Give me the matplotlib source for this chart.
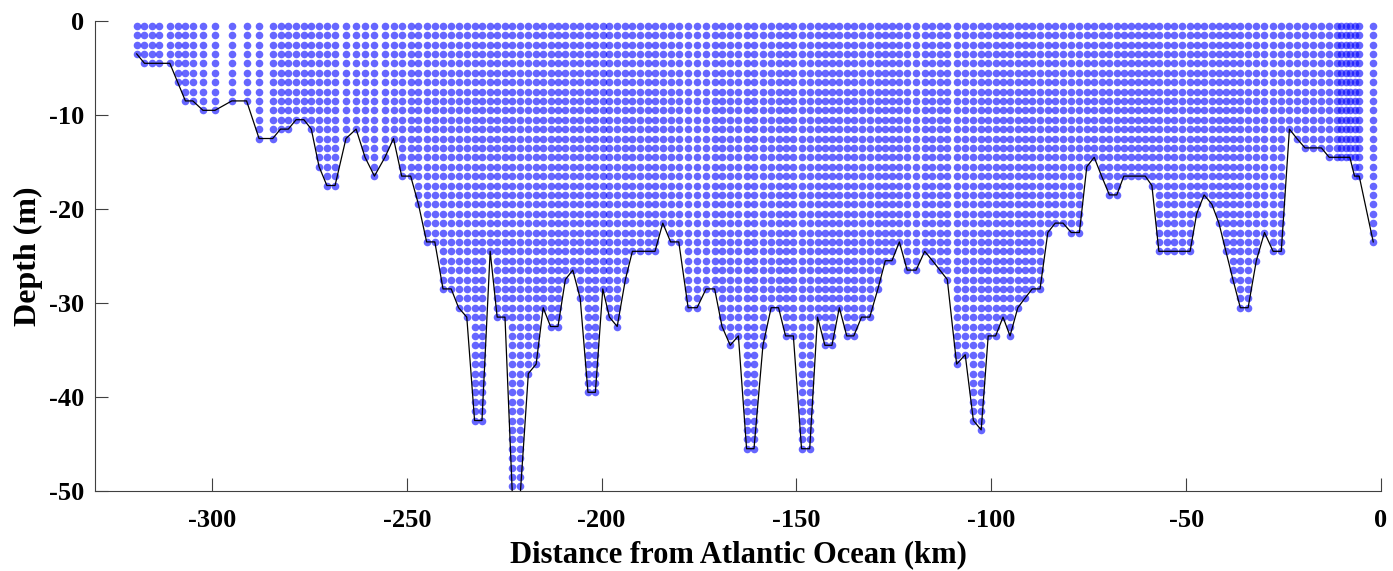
import numpy as np
import matplotlib
matplotlib.use('Agg')
from matplotlib import pyplot as plt

# station distance along the channel (km) and bed depth (m)
DIST_KM = [
    -319.3, -317.3, -315.4, -313.5, -310.8, -308.8, -306.8, -304.9, -302.3, -299.2,
    -294.9, -291.1, -287.9, -284.4, -282.4, -280.4, -278.4, -276.4, -274.5, -272.5,
    -270.5, -268.4, -265.6, -263.0, -260.7, -258.3, -255.6, -253.4, -251.3, -249.0,
    -247.0, -244.9, -242.8, -240.7, -238.6, -236.7, -234.6, -232.6, -230.7, -228.6,
    -226.8, -224.8, -222.9, -220.9, -218.8, -216.8, -215.0, -213.1, -211.2, -209.3,
    -207.4, -205.5, -203.5, -201.6, -199.7, -198.0, -196.0, -193.9, -192.1, -190.2,
    -188.2, -186.3, -184.3, -182.3, -180.2, -177.8, -175.5, -173.2, -171.0, -169.1,
    -167.0, -164.9, -162.8, -160.9, -158.6, -156.5, -154.6, -152.8, -150.8, -148.7,
    -146.6, -144.6, -142.7, -140.9, -139.0, -137.1, -135.3, -133.3, -131.2, -129.1,
    -127.2, -125.5, -123.6, -121.6, -119.3, -117.1, -115.1, -113.2, -111.3, -108.9,
    -106.7, -104.6, -102.6, -100.8, -98.9, -97.0, -95.2, -93.2, -91.4, -89.5,
    -87.5, -85.5, -83.6, -81.6, -79.5, -77.4, -75.5, -73.6, -71.7, -69.7,
    -67.8, -66.0, -64.1, -62.3, -60.5, -58.8, -57.0, -55.0, -53.0, -51.0,
    -49.0, -47.3, -45.4, -43.4, -41.6, -39.8, -38.0, -36.1, -34.1, -32.0,
    -29.9, -27.7, -25.6, -23.5, -21.6, -19.5, -17.4, -15.3, -13.3, -11.3,
    -10.2, -9.1, -8.0, -6.8, -5.6, -2.0,
]
BED_M = [
    -3.5, -4.5, -4.5, -4.5, -4.5, -6.5, -8.5, -8.5, -9.5, -9.5,
    -8.5, -8.5, -12.5, -12.5, -11.5, -11.5, -10.5, -10.5, -11.5, -15.5,
    -17.5, -17.5, -12.5, -11.5, -14.5, -16.5, -14.5, -12.5, -16.5, -16.5,
    -19.5, -23.5, -23.5, -28.5, -28.5, -30.5, -31.5, -42.5, -42.5, -24.5,
    -31.5, -31.5, -50.5, -50.5, -37.5, -36.5, -30.5, -32.5, -32.5, -27.5,
    -26.5, -29.5, -39.5, -39.5, -28.5, -31.5, -32.5, -27.5, -24.5, -24.5,
    -24.5, -24.5, -21.5, -23.5, -23.5, -30.5, -30.5, -28.5, -28.5, -32.5,
    -34.5, -33.5, -45.5, -45.5, -34.5, -30.5, -30.5, -33.5, -33.5, -45.5,
    -45.5, -31.5, -34.5, -34.5, -30.5, -33.5, -33.5, -31.5, -31.5, -28.5,
    -25.5, -25.5, -23.5, -26.5, -26.5, -24.5, -25.5, -26.5, -27.5, -36.5,
    -35.5, -42.5, -43.5, -33.5, -33.5, -31.5, -33.5, -30.5, -29.5, -28.5,
    -28.5, -22.5, -21.5, -21.5, -22.5, -22.5, -15.5, -14.5, -16.5, -18.5,
    -18.5, -16.5, -16.5, -16.5, -16.5, -17.5, -24.5, -24.5, -24.5, -24.5,
    -24.5, -20.5, -18.5, -19.5, -21.5, -24.5, -27.5, -30.5, -30.5, -25.5,
    -22.5, -24.5, -24.5, -11.5, -12.5, -13.5, -13.5, -13.5, -14.5, -14.5,
    -14.5, -14.5, -14.5, -16.5, -16.5, -23.5,
]
X_TICKS = [-300, -250, -200, -150, -100, -50, 0]
Y_TICKS = [0, -10, -20, -30, -40, -50]
GRID_STEP_M = 1.0


def water_points(dist, bed):
    # one column of grid points per station, from the surface down to the bed
    xs = []
    zs = []
    for x, d in zip(dist, bed):
        z = np.arange(-GRID_STEP_M / 2, d - 0.01, -GRID_STEP_M)
        xs.extend([x] * len(z))
        zs.extend(z)
    return xs, zs


def main():
    plt.rcParams['font.family'] = ['Liberation Serif', 'DejaVu Serif']
    plt.rcParams['font.weight'] = 'bold'
    fig = plt.figure(figsize=(13.93, 5.71), dpi=100)
    ax = fig.add_axes([0.0682, 0.1401, 0.9232, 0.8231])

    xs, zs = water_points(DIST_KM, BED_M)
    ax.scatter(xs, zs, s=30, color='#0000ff', alpha=0.6, linewidths=0, zorder=2)
    ax.plot(DIST_KM, BED_M, color='black', linewidth=0.9, zorder=3)

    ax.set_xlim(-330, 0)
    ax.set_ylim(-50, 0)
    ax.set_xticks(X_TICKS)
    ax.set_yticks(Y_TICKS)
    ax.set_xticklabels([str(t) for t in X_TICKS])
    ax.set_yticklabels([str(t) for t in Y_TICKS])

    for side in ['top', 'right']:
        ax.spines[side].set_visible(False)
    for side in ['left', 'bottom']:
        ax.spines[side].set_color('#404040')
        ax.spines[side].set_linewidth(0.8)
    ax.tick_params(direction='in', length=9.5, width=0.8, color='#404040',
                   labelsize=19, pad=8)
    ax.tick_params(axis='x', pad=13)
    for lbl in ax.get_xticklabels() + ax.get_yticklabels():
        lbl.set_fontweight('bold')

    ax.set_xlabel('Distance from Atlantic Ocean (km)', fontsize=22, fontweight='bold', labelpad=6)
    ax.set_ylabel('Depth (m)', fontsize=23, fontweight='bold', labelpad=4)

    fig.savefig('out.png', dpi=100)


if __name__ == '__main__':
    main()
